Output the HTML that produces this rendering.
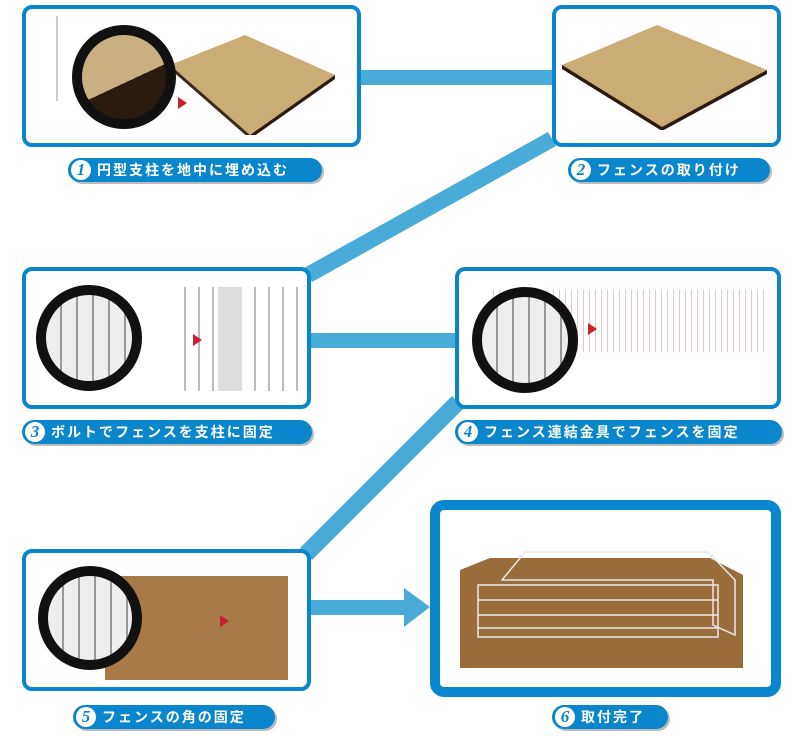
<!DOCTYPE html>
<html><head><meta charset="utf-8"><style>
body{margin:0;width:800px;height:736px;background:#fff;position:relative;overflow:hidden;font-family:"Liberation Sans","Noto Sans CJK JP",sans-serif}
.b{position:absolute;border:4px solid #0a86cc;border-radius:10px;background:#fff;box-sizing:border-box}
.p{position:absolute;height:24px;background:#0a86cc;border-radius:12px;color:#fff;font-size:14px;font-weight:bold;line-height:24px;letter-spacing:2px;box-shadow:2px 2px 0 #bbb;white-space:nowrap}
.n{display:inline-block;width:20px;height:20px;border-radius:50%;background:#fff;color:#0a86cc;text-align:center;line-height:20px;font-style:italic;font-family:"Liberation Serif",serif;font-size:17px;margin:2px 6px 0 3px;vertical-align:top;letter-spacing:0}
.c{position:absolute;border-radius:50%;border:10px solid #111;box-sizing:border-box;background:#c9c9c9}
.tri{position:absolute;width:0;height:0;border-top:6px solid transparent;border-bottom:6px solid transparent;border-left:9px solid #c8202e}
</style></head><body>
<svg width="800" height="736" style="position:absolute;left:0;top:0">
<g fill="#4aaad8">
<rect x="358" y="70" width="196" height="15"/>
<polygon points="548,132 556,146 312,282 304,268"/>
<rect x="308" y="333" width="150" height="15"/>
<polygon points="452,396 464,408 312,560 300,548"/>
<rect x="310" y="600" width="96" height="15"/>
<polygon points="404,588 430,607 404,627"/>
</g></svg>

<div class="b" style="left:22px;top:5px;width:339px;height:142px"></div>
<svg style="position:absolute;left:170px;top:35px" width="170" height="100"><polygon points="0,30 75,0 165,40 80,100" fill="#c9ad75"/><polygon points="0,30 80,100 80,104 0,34" fill="#3a2a1a"/><polygon points="80,100 165,40 165,44 80,104" fill="#2a1a10"/></svg>
<div class="c" style="left:72px;top:25px;width:104px;height:104px;background:linear-gradient(155deg,#c8b080 55%,#2a1a10 55%)"></div>
<div style="position:absolute;left:56px;top:16px;width:2px;height:85px;background:#ccc"></div>
<div class="tri" style="left:178px;top:97px"></div>

<div class="b" style="left:552px;top:5px;width:229px;height:142px"></div>
<svg style="position:absolute;left:562px;top:25px" width="210" height="105"><polygon points="0,40 95,0 205,45 100,105" fill="#c9ad75"/><polygon points="0,40 100,102 100,106 0,44" fill="#2a1a10"/><polygon points="100,102 205,45 205,49 100,106" fill="#2a1a10"/></svg>

<div class="b" style="left:22px;top:267px;width:289px;height:142px"></div>
<div style="position:absolute;left:172px;top:287px;width:128px;height:104px;background:repeating-linear-gradient(90deg,#fff 0 12px,#bbb 12px 14px)"></div>
<div style="position:absolute;left:218px;top:287px;width:24px;height:104px;background:#ddd"></div>
<div class="c" style="left:36px;top:285px;width:106px;height:106px;background:repeating-linear-gradient(90deg,#eee 0 14px,#999 14px 16px)"></div>
<div class="tri" style="left:193px;top:334px"></div>

<div class="b" style="left:455px;top:267px;width:326px;height:142px"></div>
<div style="position:absolute;left:488px;top:290px;width:280px;height:62px;background:repeating-linear-gradient(90deg,#fff 0 5px,#e6c8c8 5px 6px)"></div>
<div class="c" style="left:472px;top:287px;width:106px;height:106px;background:repeating-linear-gradient(90deg,#eee 0 14px,#999 14px 16px)"></div>
<div class="tri" style="left:588px;top:323px"></div>

<div class="b" style="left:22px;top:549px;width:289px;height:142px"></div>
<div style="position:absolute;left:105px;top:576px;width:183px;height:104px;background:#a77a48"></div>
<div class="c" style="left:38px;top:566px;width:104px;height:104px;background:repeating-linear-gradient(90deg,#eee 0 14px,#999 14px 16px)"></div>
<div class="tri" style="left:220px;top:615px"></div>

<div class="b" style="left:430px;top:500px;width:351px;height:197px;border-width:10px;border-radius:14px"></div>
<svg style="position:absolute;left:460px;top:540px" width="285" height="130"><polygon points="0,30 30,18 250,18 283,35 283,128 0,128" fill="#9a6c3a"/><g stroke="#e8e8e8" stroke-width="1.5" fill="none"><polygon points="65,12 248,12 275,40 275,95 253,85 253,40 42,40"/><rect x="18" y="45" width="240" height="52"/><line x1="18" y1="60" x2="258" y2="60"/><line x1="18" y1="75" x2="258" y2="75"/><line x1="18" y1="88" x2="258" y2="88"/></g></svg>

<div class="p" style="left:68px;top:158px;width:254px"><span class="n">1</span>円型支柱を地中に埋め込む</div>
<div class="p" style="left:568px;top:158px;width:202px"><span class="n">2</span>フェンスの取り付け</div>
<div class="p" style="left:22px;top:420px;width:290px"><span class="n">3</span>ボルトでフェンスを支柱に固定</div>
<div class="p" style="left:455px;top:420px;width:327px"><span class="n">4</span>フェンス連結金具でフェンスを固定</div>
<div class="p" style="left:73px;top:705px;width:202px"><span class="n">5</span>フェンスの角の固定</div>
<div class="p" style="left:552px;top:705px;width:116px"><span class="n">6</span>取付完了</div>
</body></html>
